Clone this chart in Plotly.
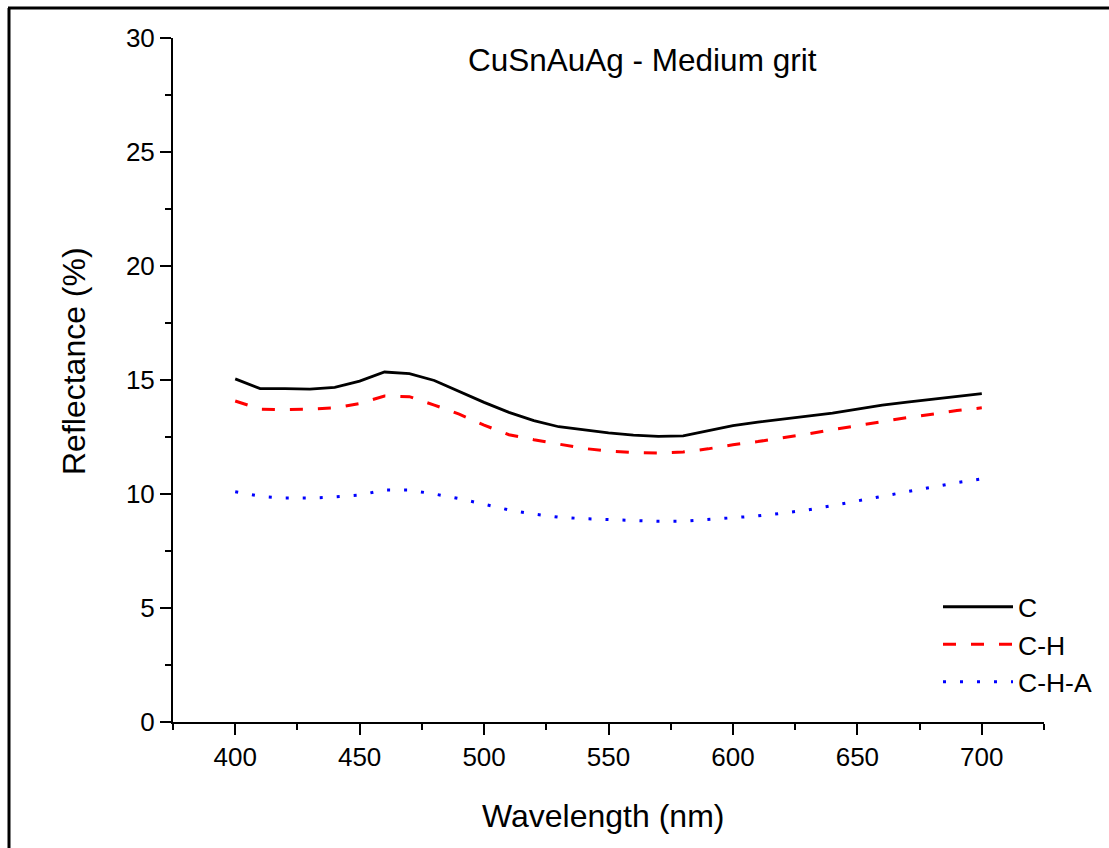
import plotly.graph_objects as go

wavelength = list(range(400, 701, 10))

refl_C = [15.05, 14.62, 14.62, 14.60, 14.68, 14.95, 15.35, 15.28, 14.98, 14.50,
          14.02, 13.58, 13.22, 12.95, 12.80, 12.68, 12.58, 12.53, 12.55, 12.78,
          13.00, 13.15, 13.28, 13.42, 13.55, 13.72, 13.90, 14.03, 14.15, 14.28, 14.40]

refl_CH = [14.08, 13.72, 13.70, 13.72, 13.78, 13.97, 14.30, 14.27, 13.90, 13.50,
           13.02, 12.60, 12.38, 12.18, 12.00, 11.88, 11.82, 11.80, 11.84, 11.98,
           12.16, 12.30, 12.46, 12.63, 12.82, 13.00, 13.18, 13.35, 13.50, 13.66, 13.78]

refl_CHA = [10.10, 9.90, 9.82, 9.82, 9.87, 9.95, 10.18, 10.17, 10.00, 9.80,
            9.55, 9.30, 9.12, 8.98, 8.92, 8.87, 8.83, 8.80, 8.80, 8.88,
            8.96, 9.04, 9.16, 9.30, 9.49, 9.68, 9.90, 10.10, 10.30, 10.50, 10.66]

series_names = ["C", "C-H", "C-H-A"]
title_text = "CuSnAuAg - Medium grit"
x_title = "Wavelength (nm)"
y_title = "Reflectance (%)"

FONT = "Liberation Sans, Arial, sans-serif"

fig = go.Figure()
fig.add_trace(go.Scatter(x=wavelength, y=refl_C, mode="lines", name=series_names[0],
                         line=dict(color="#000000", width=2.8)))
fig.add_trace(go.Scatter(x=wavelength, y=refl_CH, mode="lines", name=series_names[1],
                         line=dict(color="#ff0000", width=3, dash="13px,15px")))
fig.add_trace(go.Scatter(x=wavelength, y=refl_CHA, mode="lines", name=series_names[2],
                         line=dict(color="#0000ff", width=3, dash="3px,14px")))

W, H = 1109, 848
L, R, T, B = 173, 65, 38, 126
pw, ph = W - L - R, H - T - B

def px(x):
    return (x - L) / pw

def py(y):
    return (H - B - y) / ph

fig.update_layout(
    width=W, height=H,
    margin=dict(l=L, r=R, t=T, b=B, pad=0, autoexpand=False),
    paper_bgcolor="white", plot_bgcolor="white",
    font=dict(family=FONT, color="black", size=26),
    showlegend=True,
    legend=dict(x=px(938), y=py(583), xanchor="left", yanchor="top",
                font=dict(size=26.5, family=FONT), itemwidth=70,
                tracegroupgap=0, bgcolor="rgba(0,0,0,0)"),
    xaxis=dict(range=[375, 725], tickmode="array", tickvals=[400, 450, 500, 550, 600, 650, 700],
               showgrid=False, zeroline=False, showline=True, linecolor="black", linewidth=2,
               ticks="outside", ticklen=11, tickwidth=2, tickcolor="black",
               tickfont=dict(size=26, family=FONT),
               minor=dict(tickvals=[375, 425, 475, 525, 575, 625, 675, 725], ticks="outside",
                          ticklen=6, tickwidth=2, tickcolor="black", showgrid=False)),
    yaxis=dict(range=[0, 30], tickmode="array", tickvals=[0, 5, 10, 15, 20, 25, 30],
               showgrid=False, zeroline=False, showline=True, linecolor="black", linewidth=2,
               ticks="outside", ticklen=11, tickwidth=2, tickcolor="black",
               tickfont=dict(size=26, family=FONT),
               minor=dict(tickvals=[2.5, 7.5, 12.5, 17.5, 22.5, 27.5], ticks="outside",
                          ticklen=6, tickwidth=2, tickcolor="black", showgrid=False)),
    annotations=[
        dict(text=title_text, x=px(642), y=py(60), xref="paper", yref="paper",
             showarrow=False, font=dict(size=31.5, family=FONT), xanchor="center", yanchor="middle"),
        dict(text=x_title, x=px(603), y=py(816), xref="paper", yref="paper",
             showarrow=False, font=dict(size=32, family=FONT), xanchor="center", yanchor="middle"),
        dict(text=y_title, x=px(74), y=py(361), xref="paper", yref="paper", textangle=-90,
             showarrow=False, font=dict(size=32, family=FONT), xanchor="center", yanchor="middle"),
    ],
    shapes=[
        dict(type="line", xref="paper", yref="paper", x0=px(8), x1=px(1109), y0=py(8), y1=py(8),
             line=dict(color="black", width=3)),
        dict(type="line", xref="paper", yref="paper", x0=px(9), x1=px(9), y0=py(8), y1=py(848),
             line=dict(color="black", width=3)),
    ],
)

fig.write_html("out.html",
               config={"displayModeBar": False},
               post_script="document.body.style.margin='0';document.body.style.padding='0';"
                           "document.documentElement.style.overflow='hidden';")
